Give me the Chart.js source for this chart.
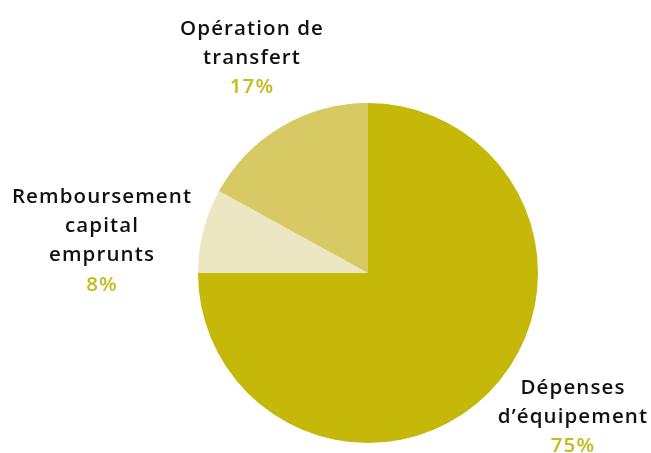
<!DOCTYPE html>
<html>
<head>
<meta charset="utf-8">
<script src="https://cdn.jsdelivr.net/npm/chart.js@4"></script>
<style>
html,body{margin:0;padding:0;background:#fff;}
canvas{display:block;}
</style>
</head>
<body>
<canvas id="c" width="651" height="453"></canvas>
<script>
const categories = [["Dépenses", "d’équipement"], ["Remboursement", "capital", "emprunts"], ["Opération de", "transfert"]];
const values = [75, 8, 17];
const percentLabels = ["75%", "8%", "17%"];
const colors = ["#C5B808", "#EDE6C3", "#D7CA64"];

const labelPos = [
  {x: 573, y: 388},
  {x: 102, y: 197},
  {x: 252, y: 29}
];

const labelPlugin = {
  id: 'outerLabels',
  afterDraw(chart) {
    const ctx = chart.ctx;
    ctx.save();
    ctx.textAlign = 'center';
    ctx.textBaseline = 'middle';
    const lh = 29.3;
    categories.forEach((lines, i) => {
      const p = labelPos[i];
      ctx.font = '600 20.5px "Open Sans", sans-serif';
      if ('letterSpacing' in ctx) ctx.letterSpacing = '1.1px';
      ctx.fillStyle = '#111111';
      lines.forEach((t, j) => ctx.fillText(t, p.x, p.y + j * lh));
      ctx.fillStyle = '#C6B919';
      ctx.fillText(percentLabels[i], p.x, p.y + lines.length * lh);
    });
    ctx.restore();
  }
};

new Chart(document.getElementById('c'), {
  type: 'pie',
  data: {
    labels: categories.map(l => l.join(' ')),
    datasets: [{
      data: values,
      backgroundColor: colors,
      borderWidth: 0
    }]
  },
  options: {
    responsive: false,
    animation: false,
    layout: {padding: {top: 103, bottom: 10, left: 198, right: 113}},
    plugins: {legend: {display: false}, tooltip: {enabled: false}}
  },
  plugins: [labelPlugin]
});
</script>
</body>
</html>
